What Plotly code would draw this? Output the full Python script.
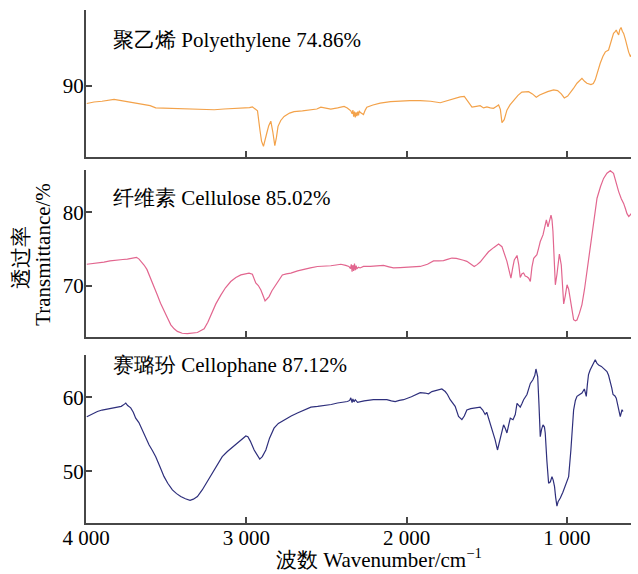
import plotly.graph_objects as go

# ---------------- data ----------------
pe_wn = [3995, 3950, 3900, 3860, 3825, 3780, 3721, 3660, 3600, 3565, 3500, 3440, 3388, 3330, 3263, 3200, 3139, 3080,
         3014, 2980, 2962, 2945, 2930, 2915, 2905, 2893, 2885, 2872, 2860, 2847, 2835, 2822, 2812, 2802, 2785, 2764,
         2730, 2702, 2650, 2597, 2560, 2535, 2500, 2473, 2430, 2390, 2370, 2355, 2348, 2340, 2335, 2330, 2325, 2320,
         2315, 2310, 2305, 2300, 2295, 2290, 2280, 2269, 2258, 2248, 2210, 2165, 2100, 2040, 1980, 1915, 1850, 1790,
         1760, 1728, 1700, 1666, 1640, 1620, 1592, 1565, 1541, 1520, 1499, 1478, 1458, 1440, 1426, 1415, 1405, 1391,
         1374, 1355, 1333, 1305, 1281, 1260, 1239, 1215, 1191, 1170, 1156, 1120, 1083, 1058, 1035, 1016, 995, 979,
         960, 937, 906, 890, 875, 850, 835, 823, 810, 792, 775, 760, 740, 725, 709, 700, 692, 685, 677, 670, 662,
         654, 646, 635, 625, 615, 604, 594, 585, 580, 570, 563]
pe_t = [87.6, 87.8, 87.9, 88.0, 88.15, 88.0, 87.8, 87.6, 87.3, 87.0, 86.95, 86.9, 86.85, 86.8, 86.7, 86.75, 86.85, 86.9,
        87.0, 87.05, 87.15, 86.9, 86.6, 84.0, 82.5, 81.8, 82.6, 83.6, 84.6, 85.2, 83.8, 81.9, 83.0, 84.5, 85.3, 85.85,
        86.3, 86.5, 86.6, 86.7, 86.85, 87.1, 86.9, 86.85, 87.0, 87.2, 87.0, 86.8, 86.6, 86.2, 86.7, 85.8, 86.5, 85.7,
        86.4, 85.9, 86.5, 86.0, 86.6, 86.4, 86.2, 86.1, 86.7, 87.1, 87.4, 87.65, 87.85, 87.95, 88.0, 88.0, 87.9, 87.7,
        87.9, 88.1, 88.3, 88.5, 88.55, 88.0, 87.1, 87.2, 87.3, 87.0, 87.15, 87.0, 86.95, 87.2, 87.4, 86.8, 85.0, 85.4,
        86.7, 87.4, 88.0, 88.7, 89.15, 89.2, 89.2, 88.9, 88.45, 88.75, 88.9, 89.2, 89.45, 89.35, 88.9, 88.35, 88.6, 89.0,
        89.6, 90.35, 91.0, 90.6, 90.35, 90.15, 90.3, 90.8, 91.8, 93.05, 94.0, 94.6, 94.85, 95.8, 97.1, 97.3, 97.55,
        97.2, 96.9, 97.6, 97.9, 97.4, 97.1, 96.3, 95.3, 94.6, 93.95, 94.4, 92.5, 91.7, 92.0, 92.15]

cel_wn = [3995, 3950, 3888, 3850, 3805, 3770, 3742, 3720, 3700, 3685, 3669, 3655, 3638, 3620, 3596, 3575, 3555, 3535,
          3513, 3490, 3471, 3450, 3430, 3400, 3368, 3340, 3305, 3280, 3263, 3240, 3222, 3190, 3159, 3130, 3097, 3065,
          3034, 3005, 2983, 2962, 2950, 2941, 2925, 2909, 2895, 2883, 2870, 2858, 2840, 2816, 2795, 2775, 2750, 2722,
          2680, 2639, 2600, 2556, 2510, 2473, 2440, 2410, 2380, 2360, 2350, 2345, 2340, 2335, 2330, 2325, 2320, 2315,
          2310, 2300, 2290, 2269, 2227, 2185, 2144, 2110, 2082, 2040, 1998, 1955, 1915, 1870, 1832, 1800, 1770, 1740,
          1717, 1690, 1666, 1645, 1624, 1600, 1578, 1560, 1541, 1515, 1489, 1455, 1426, 1405, 1390, 1374, 1360, 1349,
          1338, 1328, 1311, 1300, 1291, 1280, 1270, 1260, 1249, 1238, 1228, 1218, 1207, 1187, 1175, 1166, 1149, 1138,
          1128, 1118, 1108, 1099, 1093, 1087, 1080, 1072, 1062, 1055, 1047, 1035, 1027, 1020, 1010, 999, 989, 979,
          968, 958, 947, 937, 922, 906, 890, 875, 858, 843, 828, 812, 790, 771, 750, 729, 709, 693, 677, 660, 646,
          635, 625, 614, 604, 594, 585, 575, 565, 559]
cel_t = [72.9, 73.0, 73.2, 73.35, 73.5, 73.55, 73.6, 73.7, 73.8, 73.85, 73.6, 73.3, 72.8, 72.2, 71.0, 69.9, 68.7, 67.6,
         66.5, 65.5, 64.65, 64.1, 63.75, 63.5, 63.45, 63.5, 63.6, 63.9, 64.1, 65.0, 66.0, 67.5, 68.7, 69.7, 70.55, 71.1,
         71.45, 71.65, 71.7, 71.55, 70.9, 70.35, 70.0, 69.4, 68.6, 67.9, 68.2, 68.5, 69.3, 70.1, 70.9, 71.45, 71.6, 71.7,
         72.0, 72.25, 72.4, 72.6, 72.6, 72.7, 72.8, 72.9, 72.75, 72.6, 72.3, 72.9, 71.9, 72.8, 72.0, 73.0, 72.1, 72.7,
         72.3, 72.5, 72.4, 72.6, 72.6, 72.7, 72.75, 72.55, 72.4, 72.45, 72.5, 72.55, 72.6, 72.9, 73.35, 73.35, 73.4, 73.6,
         73.75, 73.7, 73.6, 73.45, 73.3, 72.9, 72.6, 72.85, 73.2, 73.9, 74.6, 75.2, 75.65, 75.3, 74.4, 73.3, 72.0, 71.0,
         72.4, 73.5, 74.1, 72.8, 71.1, 71.6, 71.7, 71.3, 71.2, 71.0, 70.55, 72.5, 73.7, 74.2, 75.2, 76.0, 76.9, 77.8,
         78.95, 78.0, 78.8, 79.6, 79.0, 77.4, 74.0, 70.1, 71.5, 73.2, 74.3, 72.8, 70.0, 67.5, 68.6, 70.1, 69.5, 68.3,
         66.5, 65.35, 65.2, 65.3, 66.2, 67.4, 69.5, 71.9, 74.8, 77.4, 79.9, 81.9, 83.5, 84.6, 85.3, 85.65, 85.3, 84.0,
         82.8, 81.8, 81.2, 80.5, 79.8, 79.4, 79.7, 79.9, 79.3, 80.0, 81.0, 78.5]

cph_wn = [3995, 3960, 3929, 3900, 3867, 3835, 3805, 3780, 3760, 3752, 3740, 3721, 3705, 3690, 3670, 3649, 3628, 3607,
          3585, 3565, 3540, 3513, 3490, 3461, 3435, 3409, 3380, 3351, 3330, 3305, 3275, 3243, 3210, 3180, 3150, 3118,
          3085, 3056, 3030, 3003, 2990, 2975, 2951, 2930, 2916, 2900, 2878, 2855, 2827, 2800, 2764, 2720, 2681, 2640,
          2597, 2555, 2514, 2470, 2431, 2400, 2369, 2355, 2348, 2340, 2335, 2328, 2320, 2306, 2290, 2265, 2207, 2165,
          2123, 2095, 2071, 2045, 2019, 1970, 1915, 1885, 1863, 1842, 1810, 1780, 1759, 1745, 1728, 1712, 1697, 1676,
          1655, 1640, 1624, 1600, 1583, 1560, 1541, 1525, 1510, 1500, 1490, 1478, 1468, 1448, 1433, 1422, 1412, 1395,
          1384, 1374, 1363, 1353, 1336, 1322, 1311, 1300, 1291, 1280, 1270, 1249, 1228, 1212, 1200, 1193, 1182, 1174,
          1166, 1158, 1149, 1140, 1135, 1125, 1114, 1103, 1093, 1085, 1077, 1070, 1062, 1055, 1041, 1025, 1010, 999,
          989, 975, 965, 958, 947, 937, 920, 906, 891, 879, 872, 865, 855, 843, 832, 823, 812, 802, 785, 771, 760,
          750, 740, 729, 720, 712, 700, 692, 685, 677, 667, 660, 656, 650]
cph_t = [57.4, 57.8, 58.1, 58.3, 58.45, 58.6, 58.7, 58.8, 59.1, 59.25, 58.9, 58.6, 58.0, 57.2, 56.6, 55.6, 54.6, 53.6,
         52.8, 52.0, 50.7, 49.3, 48.4, 47.5, 47.0, 46.6, 46.3, 46.1, 46.25, 46.6, 47.5, 48.65, 50.0, 51.1, 52.0, 52.7,
         53.3, 53.85, 54.35, 54.8, 54.7, 54.1, 52.9, 52.1, 51.67, 52.0, 52.9, 54.5, 55.85, 56.5, 57.0, 57.5, 57.9, 58.3,
         58.7, 58.8, 58.9, 59.05, 59.25, 59.35, 59.45, 59.6, 59.95, 59.3, 59.8, 59.4, 59.7, 59.35, 59.45, 59.55, 59.7, 59.7,
         59.7, 59.55, 59.45, 59.6, 59.7, 60.1, 60.65, 60.6, 60.5, 60.8, 61.0, 61.15, 60.8, 60.4, 59.7, 59.2, 58.8, 57.45,
         57.0, 57.5, 58.3, 58.5, 58.55, 58.6, 58.7, 58.3, 57.7, 58.0, 57.3, 56.4, 55.6, 54.3, 52.9, 53.8, 54.7, 56.3,
         55.8, 55.2, 56.3, 57.2, 57.0, 57.7, 59.2, 58.9, 58.7, 59.2, 59.7, 60.4, 61.9, 62.4, 63.0, 63.85, 62.8, 59.0,
         54.7, 55.7, 56.3, 56.0, 55.2, 51.5, 48.4, 48.6, 49.3, 48.8, 47.95, 46.5, 45.3, 45.9, 46.4, 47.2, 48.0, 48.7,
         49.3, 52.9, 56.0, 58.3, 59.6, 60.15, 60.4, 60.6, 61.15, 60.15, 61.8, 63.1, 63.7, 64.3, 64.7, 65.1, 64.6, 64.4,
         64.2, 63.95, 63.8, 63.5, 63.0, 62.2, 61.3, 60.4, 60.2, 59.9, 59.2, 58.35, 57.4, 58.0, 58.35, 58.1]

panel_labels = ["聚乙烯 Polyethylene 74.86%", "纤维素 Cellulose 85.02%", "赛璐玢 Cellophane 87.12%"]
x_tickvals = [4000, 3000, 2000, 1000]
x_ticktext = ["4 000", "3 000", "2 000", "1 000"]
y_tickvals = [[90], [70, 80], [50, 60]]
y_ranges = [[80.4, 100.27], [62.92, 85.76], [43.03, 65.77]]
colors = ["#F3A24A", "#E2668F", "#2E2F7C"]

# ---------------- figure ----------------
SERIF = "Liberation Serif"
AXC = "#474747"
fig = go.Figure()
series = [(pe_wn, pe_t), (cel_wn, cel_t), (cph_wn, cph_t)]
for i, (wn, t) in enumerate(series):
    fig.add_trace(go.Scatter(x=wn, y=t, mode="lines", line=dict(color=colors[i], width=1.2),
                             xaxis="x" if i == 0 else f"x{i+1}", yaxis="y" if i == 0 else f"y{i+1}",
                             showlegend=False, hoverinfo="skip"))

domains = [[0.7142, 1.0], [0.3616, 0.6883], [0.0, 0.3279]]
xr = [4000, 600]
fig.update_layout(width=638, height=574, margin=dict(l=86, r=7, t=10, b=51),
                  paper_bgcolor="white", plot_bgcolor="white",
                  font=dict(family=SERIF, size=21, color="black"), showlegend=False)
for i in range(3):
    xk = "xaxis" if i == 0 else f"xaxis{i+1}"
    yk = "yaxis" if i == 0 else f"yaxis{i+1}"
    ya = "y" if i == 0 else f"y{i+1}"
    xa = "x" if i == 0 else f"x{i+1}"
    fig.update_layout({
        xk: dict(domain=[0, 1], anchor=ya, range=xr, showline=True, linecolor=AXC, linewidth=2,
                 ticks="inside", ticklen=6, tickwidth=1.5, tickcolor=AXC, showgrid=False, zeroline=False,
                 tickvals=x_tickvals, ticktext=x_ticktext, showticklabels=(i == 2), ticklabelstandoff=-5,
                 tickfont=dict(family=SERIF, size=21, color="black")),
        yk: dict(domain=domains[i], anchor=xa, range=y_ranges[i], showline=True, linecolor=AXC, linewidth=2,
                 ticks="inside", ticklen=6, tickwidth=1.5, tickcolor=AXC, showgrid=False, zeroline=False,
                 tickvals=y_tickvals[i], ticklabelstandoff=-4,
                 tickfont=dict(family=SERIF, size=21, color="black")),
    })

ann_y = [0.9416, 0.6337, 0.3084]
for i in range(3):
    fig.add_annotation(text=panel_labels[i], xref="paper", yref="paper", x=0.046, y=ann_y[i],
                       xanchor="left", yanchor="middle", showarrow=False,
                       font=dict(family=SERIF, size=21, color="black"))

fig.add_annotation(text="透过率", xref="paper", yref="paper", x=(21 - 86) / 545, y=(523.3 - 258) / 513.3,
                   textangle=-90, showarrow=False, xanchor="center", yanchor="middle",
                   font=dict(family=SERIF, size=21, color="black"))
fig.add_annotation(text="Transmittance/%", xref="paper", yref="paper", x=(43 - 86) / 545, y=(523.3 - 255) / 513.3,
                   textangle=-90, showarrow=False, xanchor="center", yanchor="middle",
                   font=dict(family=SERIF, size=21, color="black"))
fig.add_annotation(text="波数 Wavenumber/cm<sup>−1</sup>", xref="paper", yref="paper", x=(379 - 86) / 545,
                   y=(523.3 - 559) / 513.3, showarrow=False, xanchor="center", yanchor="middle",
                   font=dict(family=SERIF, size=21, color="black"))

fig.write_html("out.html")
